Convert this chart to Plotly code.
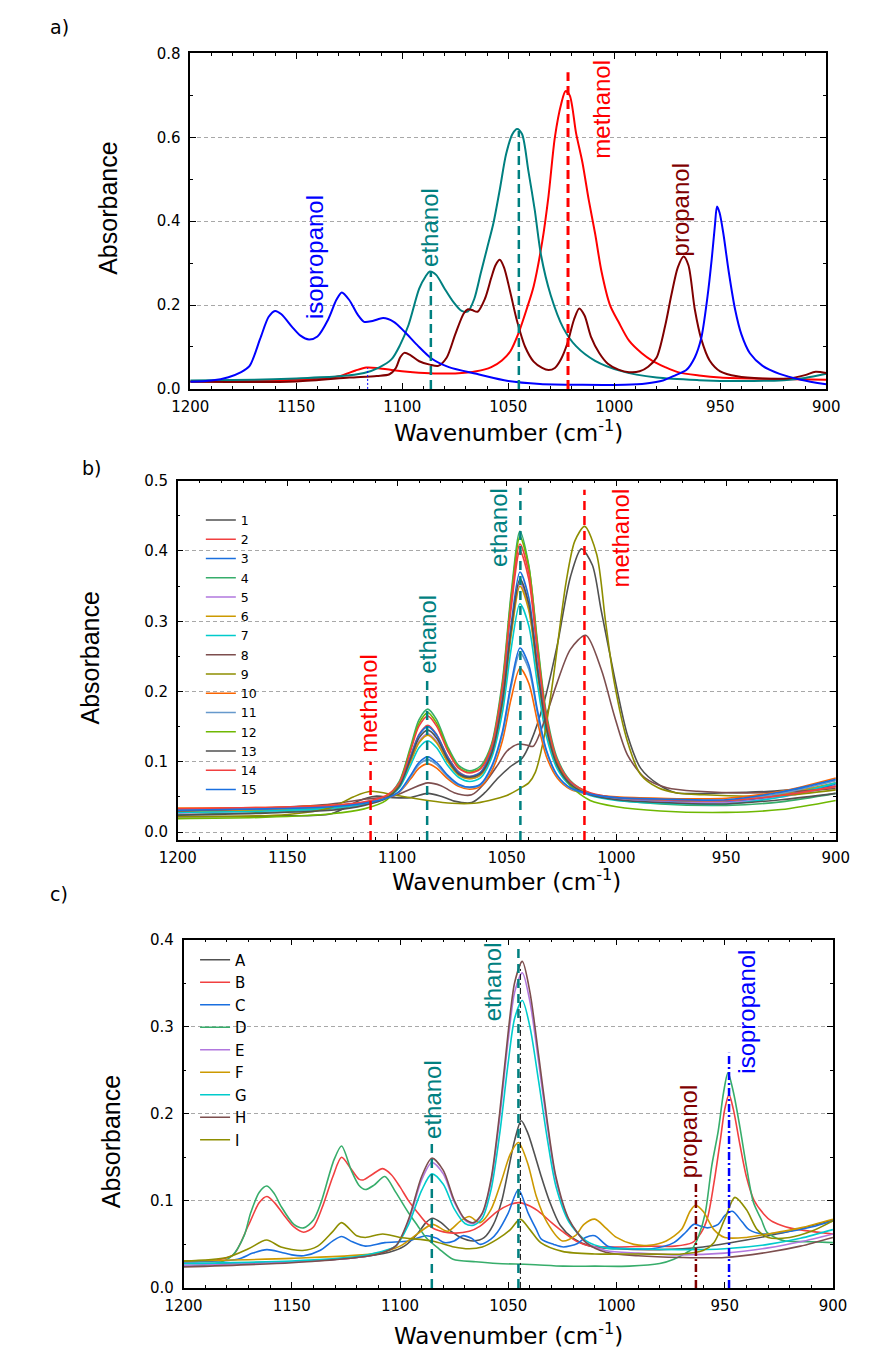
import plotly.graph_objects as go

W_PX, H_PX = 871, 1368

# ------------------------------------------------------------------ panel a data
A_ISO_W = [1200, 1190, 1182, 1176, 1172, 1167, 1163, 1160, 1157, 1152, 1148, 1144, 1140, 1135, 1131, 1128.5,
           1125, 1121, 1118, 1114, 1109, 1104, 1099, 1093, 1086, 1078, 1065, 1050, 1035, 1015, 995, 985, 977,
           971, 966, 962, 959, 956, 954, 952.5, 951.5, 950.3, 948.5, 946, 943, 940, 936, 930, 922, 912, 900]
A_ISO_Y = [.017, .020, .028, .040, .055, .120, .172, .186, .178, .148, .127, .118, .125, .165, .213, .230,
           .212, .177, .160, .162, .169, .160, .137, .105, .072, .052, .036, .019, .012, .010, .010, .013, .020,
           .033, .045, .075, .120, .220, .310, .390, .435, .420, .370, .280, .190, .130, .085, .055, .036, .022, .011]

A_ETH_W = [1200, 1170, 1150, 1130, 1118, 1111, 1105, 1101, 1097, 1092, 1089, 1087, 1084, 1080, 1076, 1072,
           1069, 1066, 1063, 1060, 1057, 1054, 1051, 1048, 1045.8, 1043.5, 1040.5, 1037.5, 1034.5, 1030,
           1024, 1018, 1009, 997, 980, 960, 940, 920, 910, 900]
A_ETH_Y = [.020, .022, .025, .030, .038, .051, .071, .105, .153, .239, .268, .280, .272, .239, .208, .186,
           .185, .215, .275, .335, .395, .475, .560, .608, .620, .608, .520, .427, .318, .224,
           .145, .102, .067, .043, .027, .021, .019, .021, .026, .036]

A_MET_W = [1200, 1160, 1140, 1130, 1122, 1117, 1112, 1105, 1095, 1085, 1075, 1065, 1058, 1053, 1049, 1045,
           1041, 1038, 1034, 1031, 1028, 1025, 1023, 1021, 1018, 1015, 1012, 1009, 1006, 1002, 998, 993, 987,
           982, 976, 970, 960, 950, 930, 900]
A_MET_Y = [.018, .020, .024, .030, .044, .051, .050, .045, .040, .037, .037, .042, .052, .068, .090, .135,
           .195, .245, .350, .460, .600, .680, .710, .700, .610, .540, .450, .370, .280, .200, .160, .115, .085,
           .067, .052, .040, .032, .027, .024, .022]

A_PRO_W = [1200, 1150, 1125, 1112, 1106, 1103, 1101, 1099, 1096, 1092, 1087, 1083, 1079, 1075, 1071, 1069,
           1067, 1064.5, 1061, 1058, 1056, 1054, 1052, 1049, 1046, 1042, 1038, 1034, 1031, 1028, 1025, 1022,
           1019, 1016.5, 1014, 1011, 1007, 1003, 998, 993, 988, 984, 980, 976, 973, 970, 967.3, 965, 962,
           959, 955, 950, 942, 930, 918, 910, 905, 900]
A_PRO_Y = [.017, .018, .027, .031, .035, .050, .075, .086, .080, .066, .058, .055, .075, .130, .180, .190,
           .188, .184, .215, .265, .295, .308, .290, .230, .165, .100, .065, .050, .045, .050, .072, .110,
           .165, .192, .175, .125, .085, .060, .046, .040, .042, .053, .075, .150, .225, .290, .316, .295, .190,
           .120, .068, .042, .030, .025, .025, .033, .041, .038]

A_MARK_W = [1086.5, 1045.0, 1021.8, 1116.3]
A_MARK_TOP = [0.280, 0.615, 0.755, 0.050]
A_LABELS = ["isopropanol", "ethanol", "methanol", "propanol"]
A_LABEL_W = [1141.7, 1086.9, 1006.0, 968.7]
A_LABEL_Y = [0.314, 0.384, 0.667, 0.427]

# ------------------------------------------------------------------ panel b data
B_GRID = [1200, 1160, 1130, 1115, 1105, 1099, 1094, 1090, 1086, 1082, 1077, 1072, 1067, 1062, 1057, 1052,
          1048, 1044, 1040, 1036, 1032, 1027, 1021, 1012, 1000, 980, 950, 925, 900]
B_S2 = [.030, .032, .036, .041, .050, .067, .107, .139, .152, .139, .108, .086, .079, .085, .119, .203,
        .319, .400, .360, .254, .161, .101, .071, .055, .048, .045, .045, .052, .065]
B_S3 = [.031, .033, .036, .041, .050, .067, .106, .138, .150, .138, .107, .085, .079, .085, .114, .190,
        .296, .370, .334, .236, .152, .097, .069, .055, .048, .044, .043, .052, .068]
B_S4 = [.025, .028, .033, .040, .050, .072, .120, .160, .175, .160, .122, .095, .087, .094, .125, .215,
        .340, .428, .380, .270, .170, .105, .073, .055, .046, .040, .038, .043, .055]
B_S5 = [.027, .030, .034, .040, .049, .065, .100, .129, .140, .129, .101, .082, .076, .081, .110, .183,
        .284, .355, .320, .228, .147, .094, .068, .054, .047, .043, .042, .050, .065]
B_S6 = [.029, .031, .035, .041, .050, .065, .099, .127, .138, .127, .100, .081, .076, .081, .109, .181,
        .280, .350, .316, .225, .146, .094, .068, .055, .049, .046, .045, .054, .070]
B_S7 = [.028, .030, .034, .040, .048, .063, .094, .120, .130, .120, .095, .078, .072, .077, .105, .170,
        .261, .325, .294, .210, .137, .090, .066, .052, .045, .041, .040, .050, .070]
B_S10 = [.034, .035, .038, .042, .048, .057, .075, .091, .097, .091, .076, .065, .061, .065, .086, .130,
         .190, .233, .212, .157, .108, .077, .061, .054, .050, .048, .048, .058, .077]
B_S11 = [.032, .034, .037, .041, .048, .057, .078, .096, .103, .096, .079, .067, .063, .067, .091, .139,
         .207, .255, .232, .169, .115, .080, .062, .053, .048, .046, .045, .055, .073]
B_S12 = [.019, .021, .026, .033, .045, .070, .117, .155, .170, .155, .119, .092, .085, .091, .122, .210,
         .334, .420, .378, .266, .165, .100, .066, .045, .036, .030, .028, .032, .045]
B_S13 = [.024, .027, .031, .038, .048, .065, .103, .134, .145, .134, .104, .083, .078, .083, .111, .186,
         .288, .360, .325, .231, .149, .095, .068, .053, .046, .042, .040, .046, .055]
B_S14 = [.033, .035, .038, .043, .052, .070, .114, .151, .165, .151, .116, .091, .084, .090, .121, .207,
         .326, .410, .369, .259, .164, .102, .072, .056, .049, .046, .045, .052, .065]
B_S15 = [.031, .033, .036, .041, .048, .058, .080, .099, .107, .099, .081, .068, .064, .068, .093, .143,
         .212, .262, .238, .173, .117, .081, .063, .054, .049, .047, .046, .057, .075]

B_S1_W = [1200, 1155, 1130, 1118, 1110, 1102, 1094, 1086, 1080, 1074, 1066, 1060, 1054, 1048, 1043, 1039,
          1033, 1027, 1021, 1016, 1011, 1007, 1001, 995, 989, 981, 973, 950, 930, 900]
B_S1_Y = [.022, .023, .026, .044, .051, .049, .049, .055, .051, .044, .042, .056, .077, .094, .105, .129,
          .185, .266, .363, .403, .380, .316, .222, .138, .091, .068, .056, .056, .058, .065]
B_S8_W = [1200, 1155, 1130, 1114, 1102, 1094, 1086, 1080, 1074, 1066, 1060, 1054, 1050, 1045, 1041, 1038,
          1033, 1027, 1021, 1014, 1007, 1001, 995, 987, 977, 963, 932, 900]
B_S8_Y = [.030, .035, .040, .047, .051, .061, .070, .066, .056, .053, .070, .096, .115, .125, .124, .122,
          .157, .213, .260, .280, .232, .166, .110, .077, .063, .058, .056, .062]
B_S9_W = [1200, 1150, 1130, 1120, 1112, 1100, 1086, 1075, 1065, 1058, 1050, 1044, 1040, 1037, 1033, 1029,
          1023, 1019, 1014.5, 1009, 1005, 1001, 995, 989, 981, 973, 960, 940, 920, 900]
B_S9_Y = [.022, .025, .035, .050, .058, .052, .045, .041, .041, .045, .052, .062, .070, .085, .135, .215,
          .355, .414, .435, .395, .300, .213, .129, .082, .063, .056, .053, .051, .053, .060]

B_NAMES = [str(i) for i in range(1, 16)]
B_MARK_W = [1112.1, 1086.3, 1043.8, 1014.6]
B_MARK_TOP = [0.100, 0.220, 0.490, 0.487]
B_LABELS = ["methanol", "ethanol", "ethanol", "methanol"]
B_LABEL_W = [1113.1, 1085.9, 1053.5, 998.0]
B_LABEL_Y = [0.183, 0.281, 0.433, 0.419]

# ------------------------------------------------------------------ panel c data
C_A_W = [1200, 1150, 1120, 1105, 1098, 1092, 1088, 1085, 1081, 1077, 1072, 1066, 1061, 1057, 1053, 1050,
         1047, 1044, 1041, 1038, 1035, 1031, 1026, 1020, 1012, 1000, 980, 960, 940, 920, 900]
C_A_Y = [.028, .030, .035, .041, .048, .062, .075, .080, .075, .066, .058, .054, .058, .072, .100, .135,
         .170, .192, .178, .155, .130, .100, .072, .057, .048, .045, .044, .047, .055, .065, .078]
C_B_W = [1200, 1185, 1177, 1170, 1165, 1161.5, 1158, 1154, 1149, 1144.5, 1140, 1136, 1131, 1127, 1123, 1119,
         1117, 1113, 1108, 1104, 1100, 1096, 1092, 1088, 1083.5, 1075.5, 1068, 1063, 1055, 1049, 1045, 1040,
         1035, 1030, 1024.5, 1018, 1012, 1000, 985, 973, 965, 961, 958, 955, 952, 950, 948, 946, 943, 940,
         936.5, 932, 928.5, 924, 920, 910, 900]
C_B_Y = [.030, .032, .038, .072, .098, .105, .098, .085, .070, .064, .070, .092, .128, .150, .138, .125,
         .124, .130, .137, .130, .116, .100, .087, .075, .067, .063, .065, .071, .088, .096, .098, .094,
         .086, .075, .064, .053, .048, .047, .048, .048, .052, .063, .080, .120, .170, .205, .222, .205, .165,
         .128, .101, .085, .077, .072, .069, .065, .062]
C_C_W = [1200, 1175, 1168, 1161.5, 1155, 1150, 1144.5, 1137, 1131, 1127, 1122, 1116, 1107, 1096, 1088, 1083,
         1079.5, 1075, 1071, 1067, 1063, 1058, 1055, 1050, 1045.3, 1040.8, 1037, 1034.7, 1029, 1024.5, 1018,
         1014.3, 1010, 1004, 994, 983.7, 973.5, 968, 964.3, 961, 958, 953, 950, 946.5, 942, 938.8, 932.7,
         922.4, 910, 900]
C_C_Y = [.030, .033, .040, .044, .041, .038, .037, .043, .054, .059, .053, .048, .052, .054, .060, .057,
         .052, .054, .060, .057, .050, .056, .064, .086, .113, .086, .067, .056, .050, .047, .051,
         .058, .060, .048, .045, .045, .052, .064, .073, .071, .069, .073, .083, .088, .076, .067, .062,
         .064, .070, .077]
C_D_W = [1200, 1185, 1177.5, 1172, 1169, 1165, 1161.5, 1158, 1155, 1149, 1144.5, 1140, 1136.5, 1130.5, 1127,
         1122.5, 1119, 1116, 1112, 1107, 1102, 1096, 1092, 1088, 1082, 1075.5, 1065, 1055, 1040, 1024.5, 1010,
         994, 980, 973.5, 968, 965, 962, 959, 956, 953, 950.5, 948.5, 946, 943, 940, 936.7, 933, 930.5, 926,
         922, 910, 900]
C_D_Y = [.025, .028, .037, .060, .086, .110, .117, .108, .094, .073, .069, .078, .098, .147, .163,
         .135, .118, .113, .118, .128, .110, .086, .072, .058, .045, .033, .030, .028, .027, .025, .025,
         .025, .028, .033, .040, .045, .060, .086, .140, .180, .225, .247, .225, .185, .140, .098, .078, .064, .057,
         .054, .053, .052]
C_EGH_W = [1200, 1150, 1120, 1110, 1102, 1096, 1090, 1085.3, 1080, 1075, 1070, 1066, 1062, 1058, 1054, 1050,
           1047, 1043.5, 1040, 1036, 1032, 1028, 1022, 1014, 1005, 990, 970, 950, 930, 915, 900]
C_E_Y = [.026, .030, .035, .040, .048, .077, .124, .144, .131, .099, .078, .074, .085, .121, .194, .285,
         .340, .362, .329, .260, .187, .125, .078, .052, .043, .040, .038, .040, .046, .053, .062]
C_G_Y = [.028, .031, .036, .041, .048, .073, .112, .131, .119, .091, .074, .072, .080, .112, .176, .259,
         .310, .330, .300, .238, .172, .117, .076, .054, .046, .045, .044, .045, .050, .057, .067]
C_H_Y = [.024, .029, .035, .039, .048, .079, .128, .149, .135, .101, .079, .075, .086, .124, .200, .294,
         .351, .375, .340, .268, .192, .128, .079, .052, .041, .037, .035, .035, .041, .048, .058]
C_F_W = [1200, 1150, 1110, 1100, 1092, 1085, 1078, 1072, 1068, 1063, 1058, 1053, 1049, 1045.3, 1041, 1037,
         1032, 1025, 1019, 1015, 1010, 1005, 1000, 992, 985, 977, 970, 966, 963.5, 960, 955, 950, 940, 930,
         915, 900]
C_F_Y = [.031, .034, .040, .048, .062, .073, .065, .077, .082, .075, .090, .124, .154, .167, .143, .105,
         .075, .054, .060, .073, .079, .069, .058, .050, .049, .054, .067, .088, .095, .088, .067, .058, .058,
         .062, .069, .079]
C_I_W = [1200, 1180, 1170, 1161.6, 1155, 1145, 1138, 1131, 1127, 1120, 1116, 1108, 1100, 1085, 1075, 1068,
         1062, 1055, 1049, 1044.5, 1040, 1035, 1025, 1010, 990, 970, 960, 955, 950, 945.3, 940, 935, 930, 920,
         910, 900]
C_I_Y = [.031, .035, .045, .055, .047, .043, .048, .065, .075, .060, .058, .062, .058, .054, .047, .045,
         .047, .056, .067, .079, .067, .052, .042, .039, .039, .039, .043, .052, .079, .104, .090, .067, .058,
         .058, .065, .077]

C_NAMES = ["A", "B", "C", "D", "E", "F", "G", "H", "I"]
C_MARK_W = [1085.3, 1045.3, 1044.4, 963.3, 948.0]
C_MARK_TOP = [0.170, 0.392, 0.370, 0.120, 0.270]
C_LABELS = ["ethanol", "ethanol", "propanol", "isopropanol"]
C_LABEL_W = [1084.7, 1057.1, 966.9, 939.8]
C_LABEL_Y = [0.216, 0.352, 0.179, 0.317]

X_TICKS = [1200, 1150, 1100, 1050, 1000, 950, 900]

# ------------------------------------------------------------------ styles
PAL = ["#515151", "#F14040", "#1A6FDF", "#37AD6B", "#B177DE", "#CC9900", "#00CBCC",
       "#7D4E4E", "#8E8E00", "#FB6501", "#6699CC", "#6FB802", "#515151", "#F14040", "#1A6FDF"]
BLUE, TEAL, RED, DRED = "#0000FF", "#008080", "#FF0000", "#800000"
NARROW = "Liberation Sans, Arial, sans-serif"
WIDE = "DejaVu Sans, Verdana, sans-serif"


def xdom(left, right):
    return [left / W_PX, right / W_PX]


def ydom(top, bottom):
    return [1 - bottom / H_PX, 1 - top / H_PX]


fig = go.Figure()


def add_curve(x, y, color, width, ax, name=None, legend=None):
    fig.add_trace(go.Scatter(
        x=x, y=y, mode="lines", name=name,
        line=dict(color=color, width=width, shape="spline", smoothing=0.8),
        xaxis="x" + ax, yaxis="y" + ax,
        showlegend=name is not None, legend=legend, hoverinfo="skip"))


# panel a
add_curve(A_MET_W, A_MET_Y, RED, 2, "")
add_curve(A_ETH_W, A_ETH_Y, TEAL, 2, "")
add_curve(A_PRO_W, A_PRO_Y, DRED, 2, "")
add_curve(A_ISO_W, A_ISO_Y, BLUE, 2, "")

# panel b
b_eth = {2: B_S2, 3: B_S3, 4: B_S4, 5: B_S5, 6: B_S6, 7: B_S7, 10: B_S10, 11: B_S11,
         12: B_S12, 13: B_S13, 14: B_S14, 15: B_S15}
for i in range(1, 16):
    if i == 1:
        xs, ys = B_S1_W, B_S1_Y
    elif i == 8:
        xs, ys = B_S8_W, B_S8_Y
    elif i == 9:
        xs, ys = B_S9_W, B_S9_Y
    else:
        xs, ys = B_GRID, b_eth[i]
    add_curve(xs, ys, PAL[i - 1], 1.6, "2", name=B_NAMES[i - 1], legend="legend")

# panel c
c_series = [(C_A_W, C_A_Y), (C_B_W, C_B_Y), (C_C_W, C_C_Y), (C_D_W, C_D_Y), (C_EGH_W, C_E_Y),
            (C_F_W, C_F_Y), (C_EGH_W, C_G_Y), (C_EGH_W, C_H_Y), (C_I_W, C_I_Y)]
for k, (xs, ys) in enumerate(c_series):
    add_curve(xs, ys, PAL[k], 1.6, "3", name=C_NAMES[k], legend="legend2")


# marker lines
def vline(ax, x, y0, y1, color, width, dash):
    fig.add_shape(type="line", xref="x" + ax, yref="y" + ax, x0=x, x1=x, y0=y0, y1=y1,
                  line=dict(color=color, width=width, dash=dash), layer="above")


a_styles = [(TEAL, 2.5, "9px,5px"), (TEAL, 2.5, "9px,5px"), (RED, 3, "9px,5px"), (BLUE, 1, "2px,2px")]
for w, top, st in zip(A_MARK_W, A_MARK_TOP, a_styles):
    vline("", w, 0, top, *st)
b_styles = [(RED, 2.5, "9px,6px"), (TEAL, 2.5, "9px,6px"), (TEAL, 2.5, "9px,6px"), (RED, 2.5, "9px,6px")]
for w, top, st in zip(B_MARK_W, B_MARK_TOP, b_styles):
    vline("2", w, -0.0112, top, *st)
c_styles = [(TEAL, 2.5, "9px,6px"), (TEAL, 2.5, "9px,6px"), ("#000000", 1, "6px,3px,2px,3px"),
            (DRED, 2.5, "8px,3px,2px,3px"), (BLUE, 2.5, "8px,3px,2px,3px")]
for w, top, st in zip(C_MARK_W, C_MARK_TOP, c_styles):
    vline("3", w, 0, top, *st)


# in-plot rotated labels
def label(ax, text, x, y, color):
    fig.add_annotation(text=text, x=x, y=y, xref="x" + ax, yref="y" + ax, textangle=-90,
                       xanchor="center", yanchor="middle",
                       showarrow=False, font=dict(family=NARROW, size=24, color=color))


for t, x, y, c in zip(A_LABELS, A_LABEL_W, A_LABEL_Y, [BLUE, TEAL, RED, DRED]):
    label("", t, x, y, c)
for t, x, y, c in zip(B_LABELS, B_LABEL_W, B_LABEL_Y, [RED, TEAL, TEAL, RED]):
    label("2", t, x, y, c)
for t, x, y, c in zip(C_LABELS, C_LABEL_W, C_LABEL_Y, [TEAL, TEAL, DRED, BLUE]):
    label("3", t, x, y, c)


def paper_text(text, xc, yc, family, size, angle=0):
    fig.add_annotation(text=text, x=xc / W_PX, y=1 - yc / H_PX, xref="paper", yref="paper",
                       xanchor="center", yanchor="middle", textangle=angle, showarrow=False,
                       font=dict(family=family, size=size, color="black"))


# axis titles and panel letters
for xc, yc in [((178 + 839) / 2, 428), ((165 + 849) / 2, 883), ((171 + 846) / 2, 1343)]:
    paper_text("Wavenumber (cm<sup>-1</sup>)", xc, yc, WIDE, 23)
for xc, yc in [(93, 202), (74, 658), (95, 1148)]:
    paper_text("Absorbance", xc, yc, NARROW, 25, angle=-90)
for t, xc, yc in [("a)", 42, 18), ("b)", 75, 465), ("c)", 42, 897)]:
    paper_text(t, xc, yc, WIDE, 19)


def xaxis(domain, anchor):
    return dict(domain=domain, anchor=anchor, range=[1200, 900], tickvals=X_TICKS,
                ticks="inside", ticklen=6, tickwidth=1.2, tickcolor="black",
                minor=dict(ticks="inside", dtick=10, ticklen=3, tickcolor="black"),
                showline=True, linecolor="black", linewidth=1.5, mirror="ticks",
                showgrid=False, zeroline=False, ticklabelstandoff=3,
                tickfont=dict(family=WIDE, size=15, color="black"))


def yaxis(domain, anchor, rng, dtick, mdtick):
    return dict(domain=domain, anchor=anchor, range=rng, tick0=0, dtick=dtick, tickformat=".1f",
                ticks="inside", ticklen=6, tickwidth=1.2, tickcolor="black",
                minor=dict(ticks="inside", dtick=mdtick, tick0=0, ticklen=3, tickcolor="black"),
                showline=True, linecolor="black", linewidth=1.5, mirror="ticks",
                showgrid=True, gridcolor="#a8a8a8", griddash="4px,3px", gridwidth=1, zeroline=False,
                ticklabelstandoff=5,
                tickfont=dict(family=WIDE, size=15, color="black"))


fig.update_layout(
    width=W_PX, height=H_PX, autosize=False,
    margin=dict(l=0, r=0, t=0, b=0),
    paper_bgcolor="white", plot_bgcolor="white",
    xaxis=xaxis(xdom(178, 839), "y"),
    yaxis=yaxis(ydom(45, 385), "x", [0, 0.8], 0.2, 0.1),
    xaxis2=xaxis(xdom(165, 849), "y2"),
    yaxis2=yaxis(ydom(478, 842), "x2", [-0.0112, 0.5], 0.1, 0.05),
    xaxis3=xaxis(xdom(171, 846), "y3"),
    yaxis3=yaxis(ydom(943, 1296), "x3", [0, 0.4], 0.1, 0.05),
    legend=dict(x=189 / W_PX, y=1 - 503 / H_PX, xanchor="left", yanchor="top",
                bgcolor="rgba(0,0,0,0)", borderwidth=0, tracegroupgap=0,
                font=dict(family=WIDE, size=12.5, color="black")),
    legend2=dict(x=183 / W_PX, y=1 - 947 / H_PX, xanchor="left", yanchor="top",
                 bgcolor="rgba(0,0,0,0)", borderwidth=0, tracegroupgap=0,
                 font=dict(family=WIDE, size=15, color="black")),
    showlegend=True,
)

fig.write_html("out.html", config={"displayModeBar": False},
               post_script="document.body.style.margin='0px';")
